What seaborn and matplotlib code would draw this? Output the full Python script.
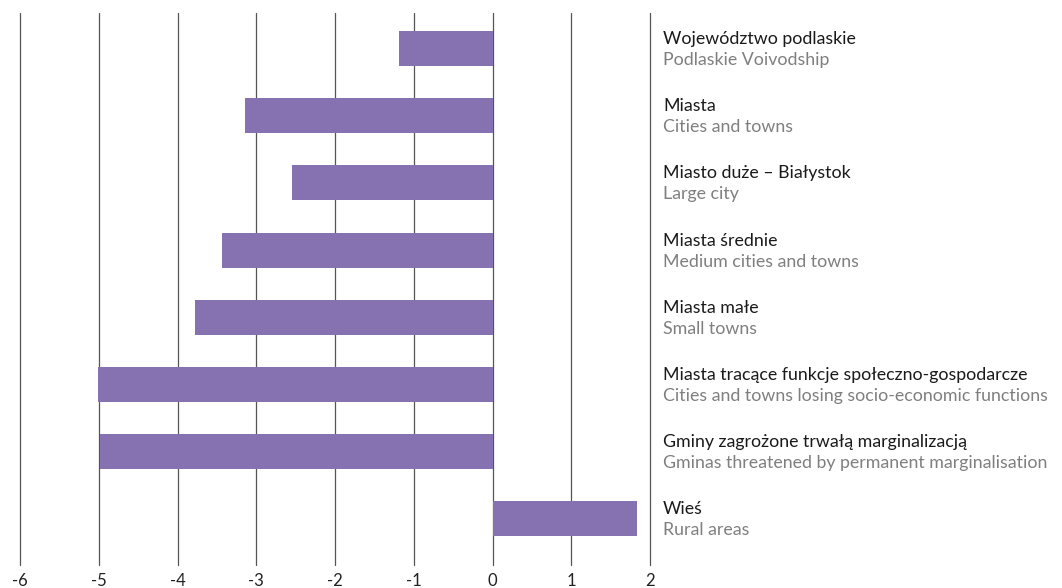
import matplotlib
matplotlib.use("Agg")
import matplotlib.pyplot as plt
import matplotlib.transforms as mtransforms
import seaborn as sns
import pandas as pd

# Category names (Polish / English) and values
labels_pl = [
    "Województwo podlaskie",
    "Miasta",
    "Miasto duże – Białystok",
    "Miasta średnie",
    "Miasta małe",
    "Miasta tracące funkcje społeczno-gospodarcze",
    "Gminy zagrożone trwałą marginalizacją",
    "Wieś",
]
labels_en = [
    "Podlaskie Voivodship",
    "Cities and towns",
    "Large city",
    "Medium cities and towns",
    "Small towns",
    "Cities and towns losing socio-economic functions",
    "Gminas threatened by permanent marginalisation",
    "Rural areas",
]
values = [-1.19, -3.14, -2.55, -3.43, -3.78, -5.01, -4.99, 1.84]
x_ticks = [-6, -5, -4, -3, -2, -1, 0, 1, 2]

df = pd.DataFrame({"group": labels_pl, "value": values})

sns.set_theme(style="white")
plt.rcParams["font.family"] = ["Lato", "DejaVu Sans"]

fig = plt.figure(figsize=(10.62, 5.88), dpi=100)
W, H = 1062, 588
ax = fig.add_axes([20 / W, 1 - 565 / H, 630 / W, 552 / H])

sns.barplot(data=df, x="value", y="group", orient="h", color="#8772b1",
            saturation=1, width=0.52, linewidth=0, ax=ax, zorder=3)

ax.set_xlim(-6, 2)
ax.set_ylim(7.69, -0.53)
ax.set_xticks(x_ticks)
ax.set_xticklabels([str(t) for t in x_ticks], fontsize=12, color="#222222")
ax.set_yticks([])
ax.set_xlabel("")
ax.set_ylabel("")
for s in ax.spines.values():
    s.set_visible(False)
ax.tick_params(axis="x", length=0, pad=6)

for t in x_ticks:
    ax.axvline(t, color="#555555", lw=0.9, zorder=1, clip_on=False)

# Two-line category labels to the right of the plot
trans = mtransforms.blended_transform_factory(ax.transAxes, ax.transData)
for i, (pl, en) in enumerate(zip(labels_pl, labels_en)):
    ax.annotate(pl, xy=(1.0, i), xycoords=trans, xytext=(13, 4.5),
                textcoords="offset pixels", va="baseline", ha="left",
                fontsize=12.8, color="#1a1a1a", annotation_clip=False)
    ax.annotate(en, xy=(1.0, i), xycoords=trans, xytext=(13, -16.5),
                textcoords="offset pixels", va="baseline", ha="left",
                fontsize=12.8, color="#7f7f7f", annotation_clip=False)

fig.savefig("out.png", dpi=100)
